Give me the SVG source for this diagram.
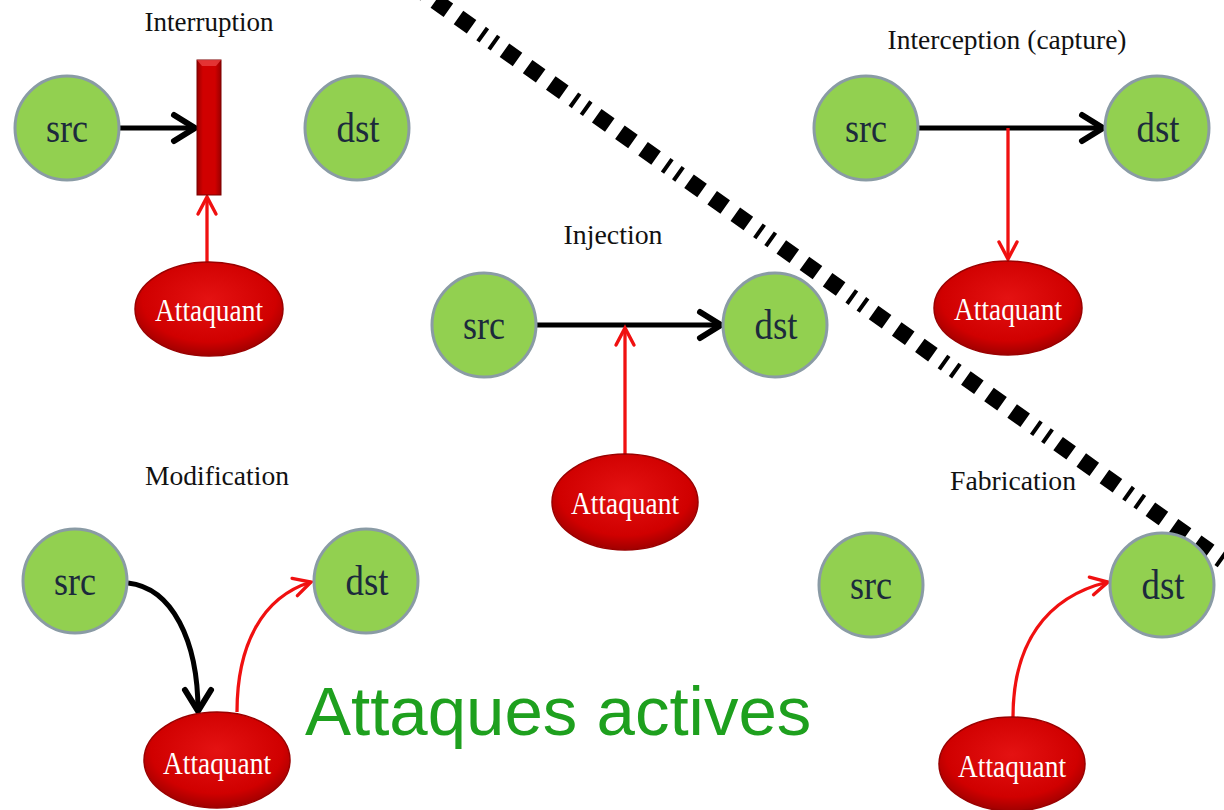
<svg xmlns="http://www.w3.org/2000/svg" width="1224" height="810" viewBox="0 0 1224 810">
<defs>
<style>
.node circle{fill:#92d050;stroke:#8a9ba5;stroke-width:3}
.lbl{font-family:"Liberation Serif","Times New Roman",serif;font-size:42px;fill:#1c2a3c;text-anchor:middle}
.att ellipse{fill:url(#redg);stroke:#9a0000;stroke-width:1.5}
.att text{font-family:"Liberation Serif","Times New Roman",serif;font-size:31px;fill:#fff;text-anchor:middle}
.title{font-family:"Liberation Serif","Times New Roman",serif;font-size:28px;fill:#111;text-anchor:middle}
.blk{fill:none;stroke:#000;stroke-width:5;marker-end:url(#ab)}
.red{fill:none;stroke:#f01010;stroke-width:3.3;marker-end:url(#ar)}
</style>
<radialGradient id="redg" cx="50%" cy="40%" r="60%">
<stop offset="0" stop-color="#e41212"/>
<stop offset="0.75" stop-color="#d00000"/>
<stop offset="1" stop-color="#a00000"/>
</radialGradient>
<linearGradient id="barg" x1="0" y1="0" x2="1" y2="0">
<stop offset="0" stop-color="#9a0000"/>
<stop offset="0.25" stop-color="#d00000"/>
<stop offset="0.75" stop-color="#d00000"/>
<stop offset="1" stop-color="#9a0000"/>
</linearGradient>
<marker id="ab" markerUnits="userSpaceOnUse" viewBox="-30 -20 40 40" markerWidth="40" markerHeight="40" refX="0" refY="0" orient="auto" overflow="visible">
<path d="M-21,-13 L0,0 L-21,13" fill="none" stroke="#000" stroke-width="6" stroke-linecap="round"/>
</marker>
<marker id="ar" markerUnits="userSpaceOnUse" viewBox="-30 -20 40 40" markerWidth="40" markerHeight="40" refX="0" refY="0" orient="auto" overflow="visible">
<path d="M-17,-9 L0,0 L-17,9" fill="none" stroke="#f01010" stroke-width="3.4" stroke-linecap="round"/>
</marker>
</defs>
<rect width="1224" height="810" fill="#fff"/>

<g id="divider">
<line x1="412.2" y1="-15.4" x2="1240" y2="572.9" stroke="#000" stroke-width="16.5" stroke-dasharray="16 12.4 16 12.4 16 11.7 4 9.7 4 11"/>
</g>

<g id="titles">
<text class="title" x="209" y="31" textLength="129" lengthAdjust="spacingAndGlyphs">Interruption</text>
<text class="title" x="1007" y="49" textLength="239" lengthAdjust="spacingAndGlyphs">Interception (capture)</text>
<text class="title" x="613" y="244" textLength="99" lengthAdjust="spacingAndGlyphs">Injection</text>
<text class="title" x="217" y="485" textLength="144" lengthAdjust="spacingAndGlyphs">Modification</text>
<text class="title" x="1013" y="490" textLength="126" lengthAdjust="spacingAndGlyphs">Fabrication</text>
</g>

<g id="connectors">
<path class="blk" d="M119,128 L195,128"/>
<path class="red" d="M207,263 L207,197"/>
<path class="blk" d="M918,128 L1103,128"/>
<path class="red" d="M1008,128 L1008,259"/>
<path class="blk" d="M536,325 L721,325"/>
<path class="red" d="M625,454 L625,328"/>
<path class="blk" d="M128,583 C172,588 198,640 198,711"/>
<path class="red" d="M237,712 C237,645 262,597 311,582"/>
<path class="red" d="M1013,717 C1013,645 1045,597 1108,582"/>
</g>

<g id="interruption-src" class="node"><circle cx="67" cy="128" r="52"/><text class="lbl" x="67" y="142" textLength="42" lengthAdjust="spacingAndGlyphs">src</text></g>
<g id="interruption-dst" class="node"><circle cx="357" cy="128" r="52"/><text class="lbl" x="358" y="142" textLength="43" lengthAdjust="spacingAndGlyphs">dst</text></g>
<g id="interruption-bar"><rect x="197" y="60" width="24" height="135" fill="url(#barg)" stroke="#7a0000" stroke-width="1"/><path d="M197,60 L221,60 L216,66 L202,66 Z" fill="#e84040" opacity="0.8"/></g>
<g id="interruption-att" class="att"><ellipse cx="209" cy="309" rx="74" ry="47"/><text x="209" y="321" textLength="108" lengthAdjust="spacingAndGlyphs">Attaquant</text></g>

<g id="interception-src" class="node"><circle cx="866" cy="128" r="52"/><text class="lbl" x="866" y="142" textLength="42" lengthAdjust="spacingAndGlyphs">src</text></g>
<g id="interception-dst" class="node"><circle cx="1157" cy="128" r="52"/><text class="lbl" x="1158" y="142" textLength="43" lengthAdjust="spacingAndGlyphs">dst</text></g>
<g id="interception-att" class="att"><ellipse cx="1008" cy="308" rx="74" ry="47"/><text x="1008" y="320" textLength="108" lengthAdjust="spacingAndGlyphs">Attaquant</text></g>

<g id="injection-src" class="node"><circle cx="484" cy="325" r="52"/><text class="lbl" x="484" y="339" textLength="42" lengthAdjust="spacingAndGlyphs">src</text></g>
<g id="injection-dst" class="node"><circle cx="775" cy="325" r="52"/><text class="lbl" x="776" y="339" textLength="43" lengthAdjust="spacingAndGlyphs">dst</text></g>
<g id="injection-att" class="att"><ellipse cx="625" cy="502" rx="73" ry="48"/><text x="625" y="514" textLength="108" lengthAdjust="spacingAndGlyphs">Attaquant</text></g>

<g id="modification-src" class="node"><circle cx="75" cy="581" r="52"/><text class="lbl" x="75" y="595" textLength="42" lengthAdjust="spacingAndGlyphs">src</text></g>
<g id="modification-dst" class="node"><circle cx="366" cy="581" r="52"/><text class="lbl" x="367" y="595" textLength="43" lengthAdjust="spacingAndGlyphs">dst</text></g>
<g id="modification-att" class="att"><ellipse cx="217" cy="760" rx="73" ry="48"/><text x="217" y="774" textLength="108" lengthAdjust="spacingAndGlyphs">Attaquant</text></g>

<g id="fabrication-src" class="node"><circle cx="871" cy="585" r="52"/><text class="lbl" x="871" y="599" textLength="42" lengthAdjust="spacingAndGlyphs">src</text></g>
<g id="fabrication-dst" class="node"><circle cx="1162" cy="585" r="52"/><text class="lbl" x="1163" y="599" textLength="43" lengthAdjust="spacingAndGlyphs">dst</text></g>
<g id="fabrication-att" class="att"><ellipse cx="1012" cy="764" rx="73" ry="47"/><text x="1012" y="777" textLength="108" lengthAdjust="spacingAndGlyphs">Attaquant</text></g>

<g id="caption">
<text x="305" y="735" font-family="Liberation Sans, Arial, sans-serif" font-size="69" fill="#1ea01e">Attaques actives</text>
</g>
</svg>
